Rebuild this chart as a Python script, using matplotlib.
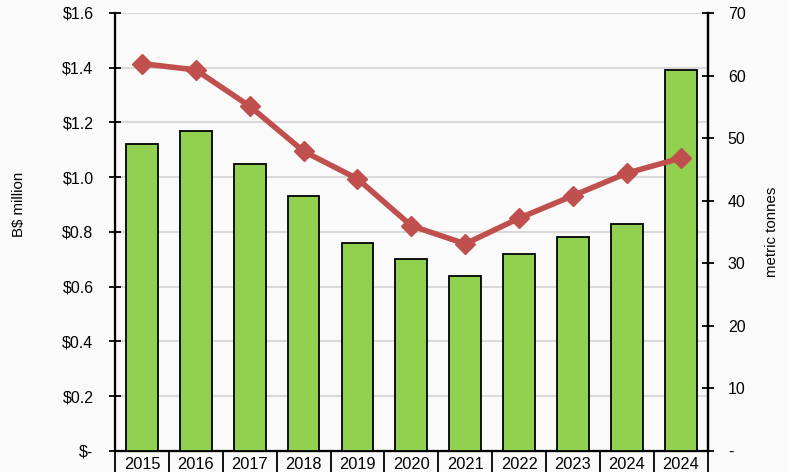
import numpy as np
import matplotlib.pyplot as plt
from matplotlib.ticker import FuncFormatter, FixedLocator

plt.rcParams['font.family'] = ['Liberation Sans', 'DejaVu Sans']

# Годы (последний столбец повторяется)
years = ['2015', '2016', '2017', '2018', '2019', '2020', '2021', '2022', '2023', '2024', '2024']
# Стоимость, млн B$
value_musd = [1.12, 1.17, 1.05, 0.93, 0.76, 0.70, 0.64, 0.72, 0.78, 0.83, 1.39]
# Объём, метрические тонны
tonnes = [61.9, 60.9, 55.1, 47.9, 43.5, 36.0, 33.1, 37.2, 40.8, 44.4, 46.8]

x = np.arange(len(years))

fig = plt.figure(figsize=(7.88, 4.72), dpi=100)
fig.patch.set_facecolor('#fafafa')
ax = fig.add_axes([0.146, 0.0445, 0.752, 0.928])
ax.set_facecolor('#fafafa')

ax.bar(x, value_musd, width=0.59, color='#92d050', edgecolor='black', linewidth=1.3, zorder=3)
ax.set_xlim(-0.5, len(years) - 0.5)
ax.set_ylim(0, 1.6)
ax.set_yticks(np.arange(0, 1.61, 0.2))
ax.yaxis.set_major_formatter(FuncFormatter(lambda v, p: '$-' if v == 0 else f'${v:.1f}'))
ax.grid(axis='y', color='#d9d9d9', linewidth=1.5, zorder=0)
ax.set_ylabel('B$ million', fontsize=10.8)
ax.yaxis.set_label_coords(-0.150, 0.562)

# подписи годов по центру, разделители между категориями
ax.set_xticks(x)
ax.set_xticklabels(years, fontsize=11.8)
ax.tick_params(axis='x', which='major', length=0, pad=4)
ax.xaxis.set_minor_locator(FixedLocator(np.arange(-0.5, len(years), 1.0)))
ax.tick_params(axis='x', which='minor', length=25, width=1.3, direction='out')
ax.tick_params(axis='y', direction='inout', length=9, width=1.3, labelsize=11.5, pad=11)

ax.spines['top'].set_visible(False)
for side in ['left', 'right', 'bottom']:
    ax.spines[side].set_linewidth(1.6)

ax2 = ax.twinx()
ax2.plot(x, tonnes, color='#c0504d', linewidth=4, marker='D', markersize=10, zorder=4)
ax2.set_ylim(0, 70)
ax2.set_yticks(np.arange(0, 71, 10))
ax2.yaxis.set_major_formatter(FuncFormatter(lambda v, p: '-' if v == 0 else f'{v:.0f}'))
ax2.tick_params(axis='y', direction='inout', length=9, width=1.3, labelsize=11.5, pad=10)
ax2.set_ylabel('metric tonnes', fontsize=10.8)
ax2.yaxis.set_label_coords(1.097, 0.5)
ax2.spines['top'].set_visible(False)
ax2.spines['right'].set_linewidth(1.6)

fig.savefig('out.png', dpi=100, facecolor=fig.get_facecolor())
